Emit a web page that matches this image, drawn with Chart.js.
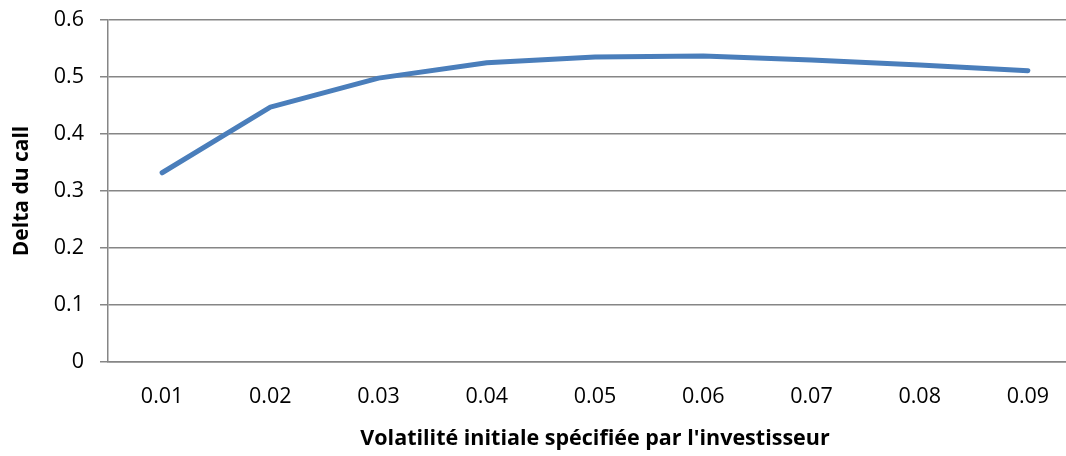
<!DOCTYPE html>
<html>
<head>
<meta charset="utf-8">
<script src="https://cdn.jsdelivr.net/npm/chart.js@4"></script>
<style>
    html, body { margin: 0; padding: 0; background: #fff; overflow: hidden; }
    #wrap { width: 1090px; height: 456px; }
</style>
</head>
<body>
<div id="wrap"><canvas id="deltaChart"></canvas></div>
<script>
    // volatilité initiale (categories) and delta du call values
    const volatilites = ['0.01', '0.02', '0.03', '0.04', '0.05', '0.06', '0.07', '0.08', '0.09'];
    const deltaCall = [0.332, 0.447, 0.498, 0.525, 0.535, 0.537, 0.530, 0.521, 0.511];
    const yTicks = [0, 0.1, 0.2, 0.3, 0.4, 0.5, 0.6];

    const gridColor = '#868686';
    const fontFamily = '"Open Sans", sans-serif';

    const ctx = document.getElementById('deltaChart').getContext('2d');
    const deltaChart = new Chart(ctx, {
        type: 'line',
        data: {
            labels: volatilites,
            datasets: [{
                label: 'Delta du call',
                data: deltaCall,
                borderColor: '#4a7ebb',
                borderWidth: 5,
                borderCapStyle: 'round',
                borderJoinStyle: 'round',
                pointRadius: 0,
                fill: false,
                tension: 0
            }]
        },
        options: {
            responsive: true,
            maintainAspectRatio: false,
            animation: false,
            layout: {
                padding: { top: 20, right: 8, left: 0, bottom: 0 }
            },
            plugins: {
                legend: { display: false },
                tooltip: { enabled: false }
            },
            scales: {
                x: {
                    offset: true,
                    grid: { display: false, drawTicks: false },
                    border: { display: true, color: gridColor, width: 1.5 },
                    ticks: {
                        color: '#000',
                        padding: 22,
                        maxRotation: 0,
                        font: { family: fontFamily, size: 21.5 }
                    },
                    title: {
                        display: true,
                        text: "Volatilité initiale spécifiée par l'investisseur",
                        color: '#000',
                        padding: { top: 0, bottom: 4 },
                        font: { family: fontFamily, size: 21.5, weight: 'bold' }
                    },
                    afterFit: scale => { scale.height = 94; }
                },
                y: {
                    min: 0,
                    max: 0.6,
                    afterBuildTicks: scale => {
                        scale.ticks = yTicks.map(v => ({ value: v }));
                    },
                    grid: {
                        color: gridColor,
                        lineWidth: 1.5,
                        drawTicks: true,
                        tickLength: 8
                    },
                    border: { display: true, color: gridColor, width: 1.5 },
                    ticks: {
                        color: '#000',
                        padding: 16,
                        font: { family: fontFamily, size: 21.5 },
                        callback: v => v === 0 ? '0' : v.toFixed(1)
                    },
                    title: {
                        display: true,
                        text: 'Delta du call',
                        color: '#000',
                        padding: { top: 9, bottom: 0 },
                        font: { family: fontFamily, size: 21, weight: 'bold' }
                    },
                    afterFit: scale => {
                        scale.width = 108;
                        // keep the plot top at the layout padding
                        scale.paddingTop = 0;
                        scale.paddingBottom = 0;
                    }
                }
            }
        }
    });
</script>
</body>
</html>
